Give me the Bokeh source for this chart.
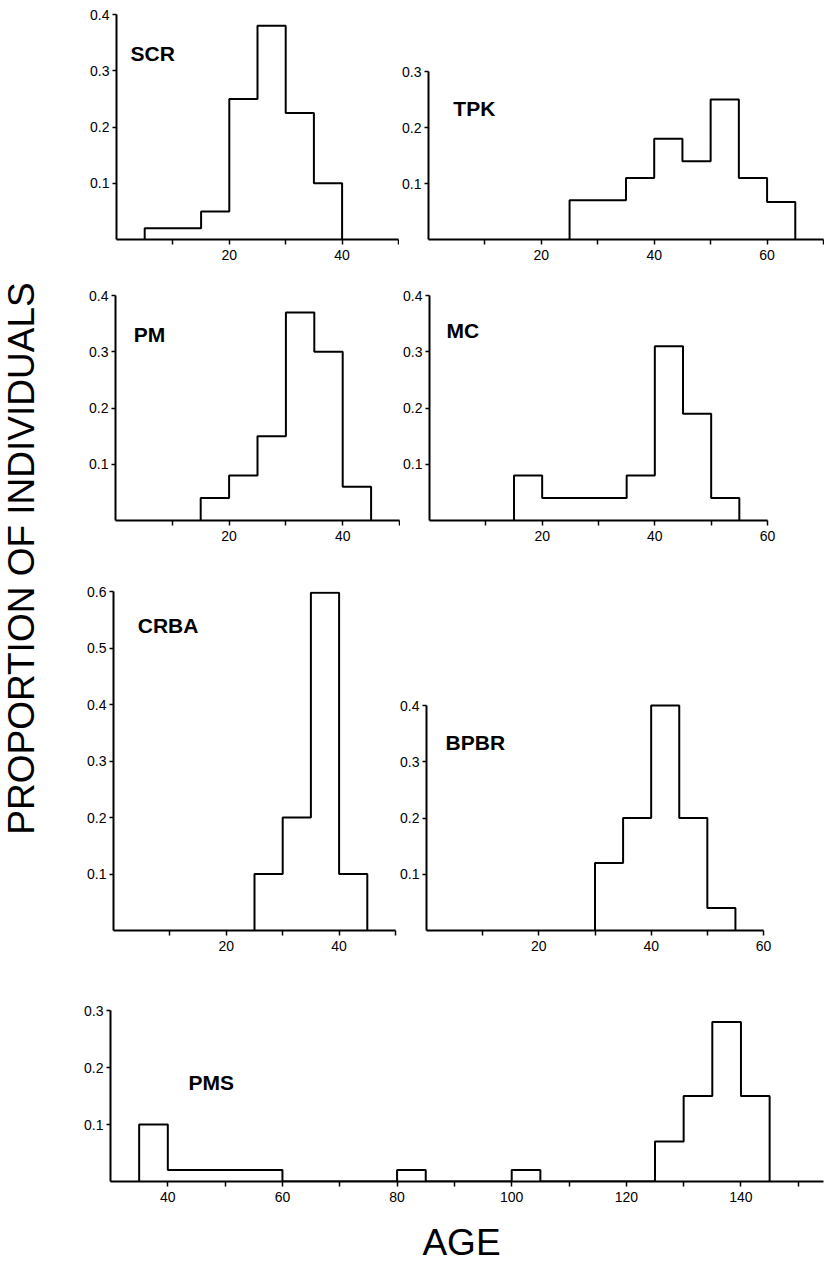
import numpy as np
from bokeh.plotting import figure
from bokeh.layouts import row, column
from bokeh.models import Range1d, FixedTicker, Label
from bokeh.embed import file_html
from bokeh.resources import INLINE

BG = "#FDFDF3"
FONT = "Liberation Sans"
BIN_WIDTH = 5

# ---- data (bin start ages, proportion of individuals) ----
scr_start = [5, 10, 15, 20, 25, 30, 35]
scr_vals = [0.02, 0.02, 0.05, 0.25, 0.38, 0.225, 0.10]

tpk_start = [25, 30, 35, 40, 45, 50, 55, 60]
tpk_vals = [0.07, 0.07, 0.11, 0.18, 0.14, 0.25, 0.11, 0.067]

pm_start = [15, 20, 25, 30, 35, 40]
pm_vals = [0.04, 0.08, 0.15, 0.37, 0.30, 0.06]

mc_start = [15, 20, 25, 30, 35, 40, 45, 50]
mc_vals = [0.08, 0.04, 0.04, 0.04, 0.08, 0.31, 0.19, 0.04]

crba_start = [25, 30, 35, 40]
crba_vals = [0.10, 0.20, 0.598, 0.10]

bpbr_start = [30, 35, 40, 45, 50]
bpbr_vals = [0.12, 0.20, 0.40, 0.20, 0.04]

pms_start = [35, 40, 45, 50, 55, 60, 65, 70, 75, 80, 85, 90, 95, 100, 105,
             110, 115, 120, 125, 130, 135, 140]
pms_vals = [0.10, 0.02, 0.02, 0.02, 0.02, 0.0, 0.0, 0.0, 0.0, 0.02, 0.0, 0.0,
            0.0, 0.02, 0.0, 0.0, 0.0, 0.0, 0.07, 0.15, 0.28, 0.15]

# tick labels
ticks_50 = [10, 20, 30, 40, 50]
ticks_60 = [10, 20, 30, 40, 50, 60]
ticks_70 = [10, 20, 30, 40, 50, 60, 70]
labeled_small = [20, 40, 60]
ticks_pms = [40, 50, 60, 70, 80, 90, 100, 110, 120, 130, 140, 150]
labeled_pms = [40, 60, 80, 100, 120, 140]
yticks_3 = [0.1, 0.2, 0.3]
yticks_4 = [0.1, 0.2, 0.3, 0.4]
yticks_6 = [0.1, 0.2, 0.3, 0.4, 0.5, 0.6]


def outline(starts, vals, w=BIN_WIDTH):
    xs, ys = [starts[0]], [0]
    for s, v in zip(starts, vals):
        xs += [s, s + w]
        ys += [v, v]
    xs.append(starts[-1] + w)
    ys.append(0)
    return xs, ys


def panel(starts, vals, name, x_start, x_end, y_end, y_top, fw, fh, left, right,
          top, bottom, xticks, xlabeled, yticks, lx, ly):
    p = figure(width=left + fw + right, height=top + fh + bottom,
               x_range=Range1d(x_start, x_end), y_range=Range1d(0, y_end),
               output_backend="svg", toolbar_location=None,
               min_border_left=left, min_border_right=right,
               min_border_top=top, min_border_bottom=bottom,
               background_fill_color=None, border_fill_color=None,
               outline_line_color=None)
    p.grid.visible = False
    xs, ys = outline(starts, vals)
    p.line(xs, ys, line_color="black", line_width=2)

    p.xaxis.ticker = FixedTicker(ticks=xticks)
    p.xaxis.major_label_overrides = {t: ("" if t not in xlabeled else str(t)) for t in xticks}
    p.yaxis.ticker = FixedTicker(ticks=yticks)
    p.yaxis.bounds = (0, y_top)
    for ax in (p.xaxis[0], p.yaxis[0]):
        ax.axis_line_width = 2
        ax.axis_line_color = "black"
        ax.major_tick_line_width = 1.5
        ax.major_tick_line_color = "black"
        ax.major_tick_in = 0
        ax.minor_tick_line_color = None
        ax.major_label_text_font = FONT
        ax.major_label_text_color = "black"
    p.xaxis.major_tick_out = 5
    p.xaxis.major_label_standoff = 5
    p.xaxis.major_label_text_font_size = "14px"
    p.yaxis.major_tick_out = 4
    p.yaxis.major_label_standoff = 3
    p.yaxis.major_label_text_font_size = "14px"

    p.add_layout(Label(x=lx, y=ly, text=name, text_font=FONT,
                       text_font_size="21px", text_font_style="bold",
                       text_color="black", text_align="left",
                       text_baseline="alphabetic"))
    return p


scr = panel(scr_start, scr_vals, "SCR", 0, 50, 0.4, 0.4, 282, 225, 71, 1, 14, 29,
            ticks_50, labeled_small, yticks_4, 2.5, 0.331)
tpk = panel(tpk_start, tpk_vals, "TPK", 0, 70, 0.402, 0.3, 396, 225, 28, 1, 14, 29,
            ticks_70, labeled_small, yticks_3, 4.4, 0.234)
pm = panel(pm_start, pm_vals, "PM", 0, 50, 0.4, 0.4, 284, 225, 70, 1, 27, 40,
           ticks_50, labeled_small, yticks_4, 3.2, 0.331)
mc = panel(mc_start, mc_vals, "MC", 0, 60, 0.4, 0.4, 340, 225, 27, 57, 27, 40,
           ticks_60, labeled_small, yticks_4, 3.0, 0.338)
crba = panel(crba_start, crba_vals, "CRBA", 0, 50, 0.6, 0.6, 282, 339, 68, 2, 31, 32,
             ticks_50, labeled_small, yticks_6, 4.3, 0.540)
bpbr = panel(bpbr_start, bpbr_vals, "BPBR", 0, 60, 0.603, 0.4, 339, 339, 27, 61, 31, 32,
             ticks_60, labeled_small, yticks_4, 3.4, 0.334)
pms = panel(pms_start, pms_vals, "PMS", 30, 154.4, 0.3, 0.3, 713, 171, 65, 1, 48, 28,
            ticks_pms, labeled_pms, yticks_3, 43.6, 0.174)


def text_fig(w, h, text, x, y, angle=0.0, left=0, right=0):
    fw = w - left - right
    f = figure(width=w, height=h, x_range=Range1d(0, fw), y_range=Range1d(0, h),
               x_axis_type=None, y_axis_type=None, output_backend="svg",
               toolbar_location=None, min_border=0,
               min_border_left=left, min_border_right=right,
               min_border_top=0, min_border_bottom=0,
               background_fill_color=None, border_fill_color=None,
               outline_line_color=None)
    f.grid.visible = False
    f.add_layout(Label(x=x, y=y, text=text, angle=angle, text_font=FONT,
                       text_font_size="37px", text_color="black",
                       text_align="center", text_baseline="middle"))
    return f


ylab = text_fig(45, 1270, "PROPORTION OF INDIVIDUALS", 21, 712, np.pi / 2)
# frame aligned with the PMS panel's frame (left border 65, right border 1)
xlab = text_fig(779, 61, "AGE", 351, 28, left=65, right=1)

layout = row(ylab, column(row(scr, tpk), row(pm, mc), row(crba, bpbr), pms, xlab))

html = file_html(layout, INLINE)
html = html.replace("<body>", '<body style="background:%s">' % BG, 1)
open("out.html", "w").write(html)
